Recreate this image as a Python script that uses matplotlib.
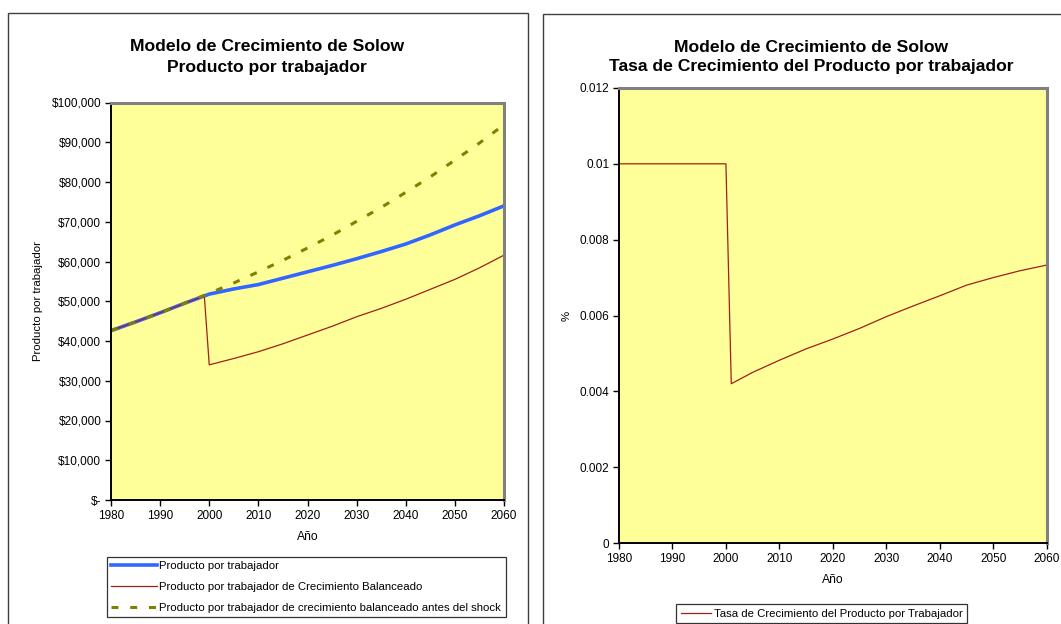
import matplotlib
matplotlib.use("Agg")
import matplotlib.pyplot as plt
from matplotlib.patches import Rectangle
from matplotlib.lines import Line2D

plt.rcParams['font.family'] = ['Liberation Sans', 'DejaVu Sans']
plt.rcParams['lines.scale_dashes'] = False

# ---------------- data ----------------
years5 = [1980, 1985, 1990, 1995, 2000, 2005, 2010, 2015, 2020,
          2025, 2030, 2035, 2040, 2045, 2050, 2055, 2060]
producto = [42600, 44800, 47100, 49500, 51800, 53100, 54200, 55800, 57400,
            59000, 60700, 62500, 64400, 66700, 69200, 71500, 74000]
antes_shock = [42600, 44800, 47100, 49500, 52000, 54600, 57400, 60300, 63400,
               66600, 70100, 73600, 77400, 81300, 85500, 89800, 94400]
years_bal = [1980, 1985, 1990, 1995, 1999, 2000, 2005, 2010, 2015, 2020,
             2025, 2030, 2035, 2040, 2045, 2050, 2055, 2060]
balanceado = [42600, 44800, 47100, 49500, 51300, 34000, 35600, 37300, 39300,
              41500, 43700, 46100, 48200, 50500, 53000, 55500, 58400, 61600]

years_tasa = [1980, 1990, 2000, 2001, 2005, 2010, 2015, 2020, 2025, 2030,
              2035, 2040, 2045, 2050, 2055, 2060]
tasa = [0.010, 0.010, 0.010, 0.00420, 0.00450, 0.00482, 0.00512, 0.00538,
        0.00566, 0.00597, 0.00625, 0.00652, 0.00680, 0.00700, 0.00718, 0.00733]

x_ticks = [1980, 1990, 2000, 2010, 2020, 2030, 2040, 2050, 2060]
y1_ticks = [0, 10000, 20000, 30000, 40000, 50000, 60000, 70000, 80000, 90000, 100000]
y1_labels = ['$-', '$10,000', '$20,000', '$30,000', '$40,000', '$50,000',
             '$60,000', '$70,000', '$80,000', '$90,000', '$100,000']
y2_ticks = [0, 0.002, 0.004, 0.006, 0.008, 0.01, 0.012]
y2_labels = ['0', '0.002', '0.004', '0.006', '0.008', '0.01', '0.012']

title1 = "Modelo de Crecimiento de Solow\nProducto por trabajador"
title2 = "Modelo de Crecimiento de Solow\nTasa de Crecimiento del Producto por trabajador"
leg1_labels = ["Producto por trabajador",
               "Producto por trabajador de Crecimiento Balanceado",
               "Producto por trabajador de crecimiento balanceado antes del shock"]
leg2_label = "Tasa de Crecimiento del Producto por Trabajador"

# ---------------- style ----------------
W, H = 1061, 624
BG = '#FFFF99'
BLUE = '#3366FF'
RED = '#A0201A'
OLIVE = '#808000'
TICK_FS = 8.5
LEG_FS = 8.2
TITLE_FS = 12.6

fig = plt.figure(figsize=(W / 100, H / 100), dpi=100)


def fx(px):
    return px / W


def fy(py):
    return 1 - py / H


# outer chart boxes
fig.patches.append(Rectangle((fx(8), fy(640)), fx(528) - fx(8), fy(13) - fy(640),
                             transform=fig.transFigure, fill=False,
                             edgecolor='#404040', lw=1.0))
fig.patches.append(Rectangle((fx(543), fy(640)), fx(1070) - fx(543), fy(14) - fy(640),
                             transform=fig.transFigure, fill=False,
                             edgecolor='#404040', lw=1.0))


def style_axes(ax):
    ax.set_facecolor(BG)
    for s in ['top', 'right']:
        ax.spines[s].set_color('#808080')
        ax.spines[s].set_linewidth(2.2)
    for s in ['left', 'bottom']:
        ax.spines[s].set_color('black')
        ax.spines[s].set_linewidth(1.4)
    ax.tick_params(axis='both', direction='out', length=4, width=1,
                   color='black', labelsize=TICK_FS, pad=3)
    ax.set_xlim(1980, 2060)
    ax.set_xticks(x_ticks)
    ax.set_xticklabels([str(v) for v in x_ticks])


# ---------------- left chart ----------------
ax1 = fig.add_axes([fx(111), fy(500), fx(504) - fx(111), fy(102.5) - fy(500)])
style_axes(ax1)
ax1.plot(years5, producto, color=BLUE, lw=2.6, solid_capstyle='butt')
ax1.plot(years_bal, balanceado, color=RED, lw=0.9)
ax1.plot(years5, antes_shock, color=OLIVE, lw=2.2,
         dashes=(5, 8.5), dash_capstyle='butt')
ax1.set_ylim(0, 100000)
ax1.set_yticks(y1_ticks)
ax1.set_yticklabels(y1_labels)
ax1.set_xlabel('Año', fontsize=LEG_FS + 0.5, labelpad=7)
ax1.set_ylabel('Producto por trabajador', fontsize=LEG_FS, labelpad=6)
fig.text(fx(267), fy(57), title1, ha='center', va='center',
         fontsize=TITLE_FS, fontweight='bold', linespacing=1.5)

h1 = [Line2D([], [], color=BLUE, lw=2.6),
      Line2D([], [], color=RED, lw=0.9),
      Line2D([], [], color=OLIVE, lw=2.2, dashes=(5, 8.5))]
leg1 = fig.legend(h1, leg1_labels, loc='upper left',
                  bbox_to_anchor=(fx(106.7), fy(556.7)),
                  bbox_transform=fig.transFigure,
                  fontsize=LEG_FS, frameon=True, fancybox=False,
                  edgecolor='black', handlelength=4.0, handletextpad=0.2,
                  labelspacing=0.95, borderpad=0.4, borderaxespad=0)
leg1.get_frame().set_linewidth(0.9)

# ---------------- right chart ----------------
ax2 = fig.add_axes([fx(619), fy(543), fx(1046.7) - fx(619), fy(88) - fy(543)])
style_axes(ax2)
ax2.plot(years_tasa, tasa, color=RED, lw=0.9)
ax2.set_ylim(0, 0.012)
ax2.set_yticks(y2_ticks)
ax2.set_yticklabels(y2_labels)
ax2.set_xlabel('Año', fontsize=LEG_FS + 0.5, labelpad=7)
ax2.set_ylabel('%', fontsize=LEG_FS, labelpad=6)
fig.text(fx(811), fy(57), title2, ha='center', va='center',
         fontsize=TITLE_FS, fontweight='bold', linespacing=1.35)

h2 = [Line2D([], [], color=RED, lw=0.9)]
leg2 = fig.legend(h2, [leg2_label], loc='upper left',
                  bbox_to_anchor=(fx(676), fy(604)),
                  bbox_transform=fig.transFigure,
                  fontsize=LEG_FS, frameon=True, fancybox=False,
                  edgecolor='black', handlelength=2.7, handletextpad=0.2,
                  borderpad=0.4, borderaxespad=0)
leg2.get_frame().set_linewidth(0.9)

fig.savefig('out.png', dpi=100, facecolor='white')
